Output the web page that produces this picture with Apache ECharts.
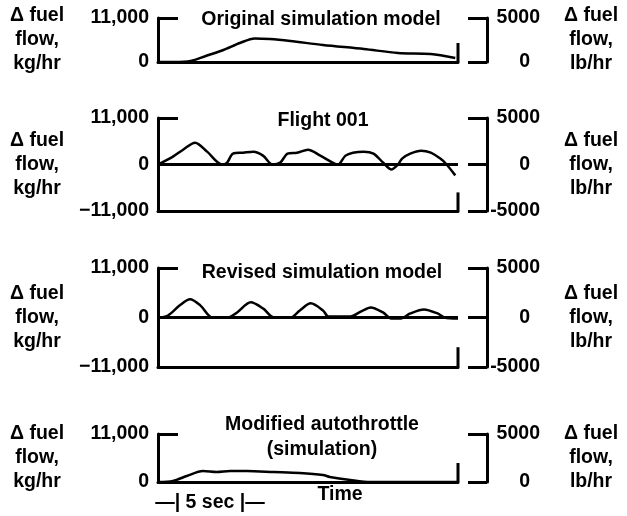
<!DOCTYPE html>
<html>
<head>
<meta charset="utf-8">
<script src="https://cdn.jsdelivr.net/npm/echarts@6/dist/echarts.min.js"></script>
<style>
html,body{margin:0;padding:0;background:#fff;}
#chart{width:627px;height:516px;}
</style>
</head>
<body>
<div id="chart"></div>
<script>
// ---- data (time in seconds, Δ fuel flow in kg/hr) ----
const titles = ['Original simulation model', 'Flight 001', 'Revised simulation model', 'Modified autothrottle\n(simulation)'];
const leftName = 'Δ fuel\nflow,\nkg/hr';
const rightName = 'Δ fuel\nflow,\nlb/hr';
const timeLabel = 'Time';
const scaleLabel = '—| 5 sec |—';
const xMax = 22;

const originalSim = [[0,0],[1.2,0],[2.4,250],[3.5,1500],[4.8,3000],[6.0,4750],[7.1,5900],[8.2,5750],[9.7,5250],[12.1,4250],[15.1,3250],[17.6,2250],[20.0,2000],[21.8,1000]];
const flight001 = [[0,0],[1.1,1870],[1.84,3500],[2.72,5150],[3.6,3040],[4.7,0],[5.07,470],[5.5,2570],[6.25,2800],[7.0,3040],[7.7,2100],[8.4,0],[8.97,470],[9.5,2570],[10.2,2800],[11.0,3500],[11.9,2100],[12.8,470],[13.2,0],[13.75,2100],[14.3,2800],[15.1,3040],[15.8,2570],[16.5,470],[17.1,-1170],[17.6,0],[17.9,1400],[18.5,2570],[19.3,3270],[20.0,2800],[20.7,1400],[21.1,230],[21.8,-2570]];
const revisedSim = [[0.15,0],[0.74,450],[1.6,2700],[2.35,4040],[3.1,2700],[4.0,0],[5.1,0],[5.8,1120],[6.8,3370],[7.7,2020],[8.5,0],[9.7,0],[10.4,1570],[11.2,3140],[12.1,1570],[12.5,220],[14.1,220],[14.9,1350],[15.6,2250],[16.5,1120],[17.1,-220],[17.8,-220],[18.5,900],[19.5,1800],[20.5,900],[21.0,0],[22.0,-220]];
const modifiedAuto = [[0,0],[1.1,230],[2.1,1370],[3.3,2520],[4.3,2290],[5.3,2520],[6.5,2520],[8.5,2290],[10.4,2060],[12.1,1600],[12.6,1150],[14.1,460],[15.6,0],[22,0]];
const endMarks = [4750, -6600, -6600, 4350];   // recorder end stroke tops
const endBase = [0, -11000, -11000, 0];
const leftRanges = [[0,11000],[-11000,11000],[-11000,11000],[0,11000]];
const rightRanges = [[0,5000],[-5000,5000],[-5000,5000],[0,5000]];
const curves = [originalSim, flight001, revisedSim, modifiedAuto];

// ---- layout ----
const FONT = '"Liberation Sans", Arial, Helvetica, sans-serif';
const FS = 19.5;
const grids = [
  {left:158, width:300, top:18, height:44},
  {left:158, width:300, top:118, height:93},
  {left:158, width:300, top:268, height:99},
  {left:158, width:300, top:434, height:48}
];
const txt = {color:'#000', fontFamily:FONT, fontWeight:'bold', fontSize:FS};
const AX_W = 3;

function fmtLeft(v){
  if (v === 0) return '0';
  const s = Math.abs(v).toLocaleString('en-US');
  return (v < 0 ? '\u2212' : '') + s;
}
function fmtRight(v){
  if (v === 0) return '{z|0}';
  return (v < 0 ? '-' : '') + Math.abs(v);
}

const xAxis = [], yAxis = [], series = [];
grids.forEach((g, i) => {
  xAxis.push({
    type:'value', gridIndex:i, min:0, max:xMax,
    axisLine:{show:true, onZero:false, lineStyle:{color:'#000', width:AX_W}},
    axisTick:{show:false}, axisLabel:{show:false}, splitLine:{show:false}
  });
  yAxis.push({
    type:'value', gridIndex:i, position:'left',
    min:leftRanges[i][0], max:leftRanges[i][1], interval:11000,
    axisLine:{show:true, lineStyle:{color:'#000', width:AX_W}},
    axisTick:{show:true, inside:true, length:20, lineStyle:{color:'#000', width:AX_W}},
    axisLabel:{...txt, margin:9, formatter:fmtLeft},
    splitLine:{show:false},
    name:leftName, nameLocation:'middle', nameRotate:0, nameGap:121,
    nameTextStyle:{...txt, align:'center', verticalAlign:'middle', lineHeight:24}
  });
  yAxis.push({
    type:'value', gridIndex:i, position:'right', offset:29,
    min:rightRanges[i][0], max:rightRanges[i][1], interval:5000,
    axisLine:{show:true, lineStyle:{color:'#000', width:AX_W}},
    axisTick:{show:true, inside:true, length:19, lineStyle:{color:'#000', width:AX_W}},
    axisLabel:{...txt, margin:53, align:'right', formatter:fmtRight,
      rich:{z:{...txt, padding:[0,10,0,0]}}},
    splitLine:{show:false},
    name:rightName, nameLocation:'middle', nameRotate:0, nameGap:104,
    nameTextStyle:{...txt, align:'center', verticalAlign:'middle', lineHeight:24}
  });
  const s = {
    type:'line', xAxisIndex:i, yAxisIndex:i*2, data:curves[i],
    showSymbol:false, symbol:'none', clip:false, smooth:0.3,
    lineStyle:{color:'#000', width:2.5}, silent:true, animation:false
  };
  if (leftRanges[i][0] < 0) {
    s.markLine = {silent:true, symbol:'none', label:{show:false},
      lineStyle:{color:'#000', width:AX_W, type:'solid'}, data:[{yAxis:0}], animation:false};
  }
  series.push(s);
  series.push({
    type:'line', xAxisIndex:i, yAxisIndex:i*2,
    data:[[xMax, endMarks[i]],[xMax, endBase[i]]],
    showSymbol:false, symbol:'none', clip:false,
    lineStyle:{color:'#000', width:AX_W}, silent:true, animation:false
  });
});

const F = 'bold ' + FS + 'px ' + FONT;
const titlePos = [[321,20],[323,121],[322,273],[322,437]];
const graphic = titles.map((t, i) => ({
  type:'text', x:titlePos[i][0], y:titlePos[i][1],
  style:{text:t, font:F, fill:'#000', align:'center', verticalAlign:'middle', lineHeight:25}
}));
graphic.push({type:'text', x:340, y:495, style:{text:timeLabel, font:F, fill:'#000', align:'center', verticalAlign:'middle'}});
graphic.push({type:'text', x:210, y:503, style:{text:scaleLabel, font:F, fill:'#000', align:'center', verticalAlign:'middle'}});

const chart = echarts.init(document.getElementById('chart'), null, {renderer:'canvas'});
chart.setOption({
  backgroundColor:'#fff',
  animation:false,
  grid:grids,
  xAxis:xAxis,
  yAxis:yAxis,
  series:series,
  graphic:graphic
});
</script>
</body>
</html>
